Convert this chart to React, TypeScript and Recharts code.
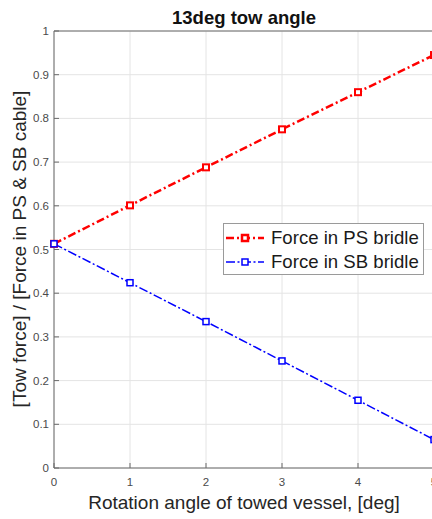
import React from "react";
import {
  LineChart,
  Line,
  XAxis,
  YAxis,
  CartesianGrid,
  Legend,
  ReferenceLine,
} from "recharts";

const xValues = [0, 1, 2, 3, 4, 5];
const psForce = [0.513, 0.601, 0.688, 0.775, 0.86, 0.945];
const sbForce = [0.513, 0.424, 0.335, 0.245, 0.155, 0.065];
const xTicks = [0, 1, 2, 3, 4, 5];
const yTicks = [0, 0.1, 0.2, 0.3, 0.4, 0.5, 0.6, 0.7, 0.8, 0.9, 1];

const FONT = '"Liberation Sans", Arial, Helvetica, sans-serif';
const AXIS_COLOR = "#6a6a6a";
const TICK_TEXT = "#4a4a4a";
const PS_COLOR = "#ff0000";
const SB_COLOR = "#0000ff";
const PS_DASH = "8 3 2 3";
const SB_DASH = "9 2.5 2 2.5";

const chartData = xValues.map((x, i) => ({
  x,
  ps: psForce[i],
  sb: sbForce[i],
}));

function squareDot(color: string, width: number) {
  return (props: any) => {
    const { cx, cy, index } = props;
    if (cx == null || cy == null) return <g key={`d-${index}`} />;
    return (
      <rect
        key={`d-${color}-${index}`}
        x={cx - 3}
        y={cy - 3}
        width={6}
        height={6}
        fill="#ffffff"
        stroke={color}
        strokeWidth={width}
      />
    );
  };
}

function BottomTick({ x, y, payload }: any) {
  return (
    <g>
      <line x1={x} y1={y} x2={x} y2={y - 5} stroke={AXIS_COLOR} />
      <text
        x={x}
        y={y + 17.5}
        textAnchor="middle"
        fill={TICK_TEXT}
        fontSize={11.5}
        fontFamily={FONT}
      >
        {payload.value}
      </text>
    </g>
  );
}

function TopTick({ x, y }: any) {
  return <line x1={x} y1={y} x2={x} y2={y + 5} stroke={AXIS_COLOR} />;
}

function LeftTick({ x, y, payload }: any) {
  return (
    <g>
      <line x1={x} y1={y} x2={x + 5} y2={y} stroke={AXIS_COLOR} />
      <text
        x={x - 5}
        y={y + 4}
        textAnchor="end"
        fill={TICK_TEXT}
        fontSize={11.5}
        fontFamily={FONT}
      >
        {payload.value}
      </text>
    </g>
  );
}

function LegendIcon({ color, dash, width }: { color: string; dash: string; width: number }) {
  return (
    <svg width={40} height={12} style={{ display: "block" }}>
      <line x1={1} y1={6} x2={39} y2={6} stroke={color} strokeWidth={width} strokeDasharray={dash} />
      <rect x={17} y={3} width={6} height={6} fill="#fff" stroke={color} strokeWidth={width} />
    </svg>
  );
}

function LegendBox() {
  const rows = [
    { label: "Force in PS bridle", color: PS_COLOR, dash: PS_DASH, width: 2.5 },
    { label: "Force in SB bridle", color: SB_COLOR, dash: SB_DASH, width: 1.5 },
  ];
  return (
    <div
      style={{
        width: 201,
        height: 52,
        boxSizing: "border-box",
        border: "1px solid #9a9a9a",
        background: "#ffffff",
        fontFamily: FONT,
        fontSize: 18.6,
        color: "#1a1a1a",
        paddingTop: 2,
      }}
    >
      {rows.map((r) => (
        <div
          key={r.label}
          style={{ display: "flex", alignItems: "center", height: 24, paddingLeft: 1 }}
        >
          <LegendIcon color={r.color} dash={r.dash} width={r.width} />
          <span style={{ marginLeft: 6, lineHeight: "24px", whiteSpace: "nowrap" }}>{r.label}</span>
        </div>
      ))}
    </div>
  );
}

export default function App() {
  return (
    <div
      style={{
        position: "fixed",
        left: 0,
        top: 0,
        width: 432,
        height: 519,
        overflow: "hidden",
        background: "#ffffff",
      }}
    >
      <LineChart
        width={440}
        height={519}
        data={chartData}
        margin={{ top: 31, right: 6, bottom: 0, left: 0 }}
      >
        <CartesianGrid stroke="#e4e4e4" strokeWidth={1} />
        <XAxis
          dataKey="x"
          type="number"
          domain={[0, 5]}
          ticks={xTicks}
          height={51}
          tickSize={0}
          tickMargin={0}
          tickLine={false}
          axisLine={{ stroke: AXIS_COLOR }}
          tick={<BottomTick />}
          interval={0}
        />
        <XAxis
          xAxisId="top"
          orientation="top"
          dataKey="x"
          type="number"
          domain={[0, 5]}
          ticks={xTicks}
          height={0}
          tickSize={0}
          tickMargin={0}
          tickLine={false}
          axisLine={{ stroke: AXIS_COLOR }}
          tick={<TopTick />}
          interval={0}
        />
        <YAxis
          type="number"
          domain={[0, 1]}
          ticks={yTicks}
          width={54}
          tickSize={0}
          tickMargin={0}
          tickLine={false}
          axisLine={{ stroke: AXIS_COLOR }}
          tick={<LeftTick />}
          interval={0}
        />
        <ReferenceLine y={1} stroke={AXIS_COLOR} />
        <Legend
          layout="vertical"
          align="center"
          verticalAlign="middle"
          content={<LegendBox />}
          wrapperStyle={{ position: "absolute", left: 223, top: 223, width: 201, height: 52 }}
        />
        <Line
          type="linear"
          dataKey="ps"
          name="Force in PS bridle"
          stroke={PS_COLOR}
          strokeWidth={2.5}
          strokeDasharray={PS_DASH}
          dot={squareDot(PS_COLOR, 2)}
          activeDot={false}
          isAnimationActive={false}
        />
        <Line
          type="linear"
          dataKey="sb"
          name="Force in SB bridle"
          stroke={SB_COLOR}
          strokeWidth={1.5}
          strokeDasharray={SB_DASH}
          dot={squareDot(SB_COLOR, 1.5)}
          activeDot={false}
          isAnimationActive={false}
        />
      </LineChart>
      <svg
        width={432}
        height={519}
        style={{ position: "absolute", left: 0, top: 0, pointerEvents: "none" }}
      >
        <text
          x={244}
          y={24}
          textAnchor="middle"
          fontFamily={FONT}
          fontWeight="bold"
          fontSize={18.5}
          fill="#111111"
        >
          13deg tow angle
        </text>
        <text
          x={244}
          y={509}
          textAnchor="middle"
          fontFamily={FONT}
          fontSize={19}
          fill="#262626"
        >
          Rotation angle of towed vessel, [deg]
        </text>
        <text
          x={26}
          y={249}
          textAnchor="middle"
          fontFamily={FONT}
          fontSize={19}
          fill="#262626"
          transform="rotate(-90, 26, 249)"
        >
          [Tow force] / [Force in PS &amp; SB cable]
        </text>
      </svg>
    </div>
  );
}
